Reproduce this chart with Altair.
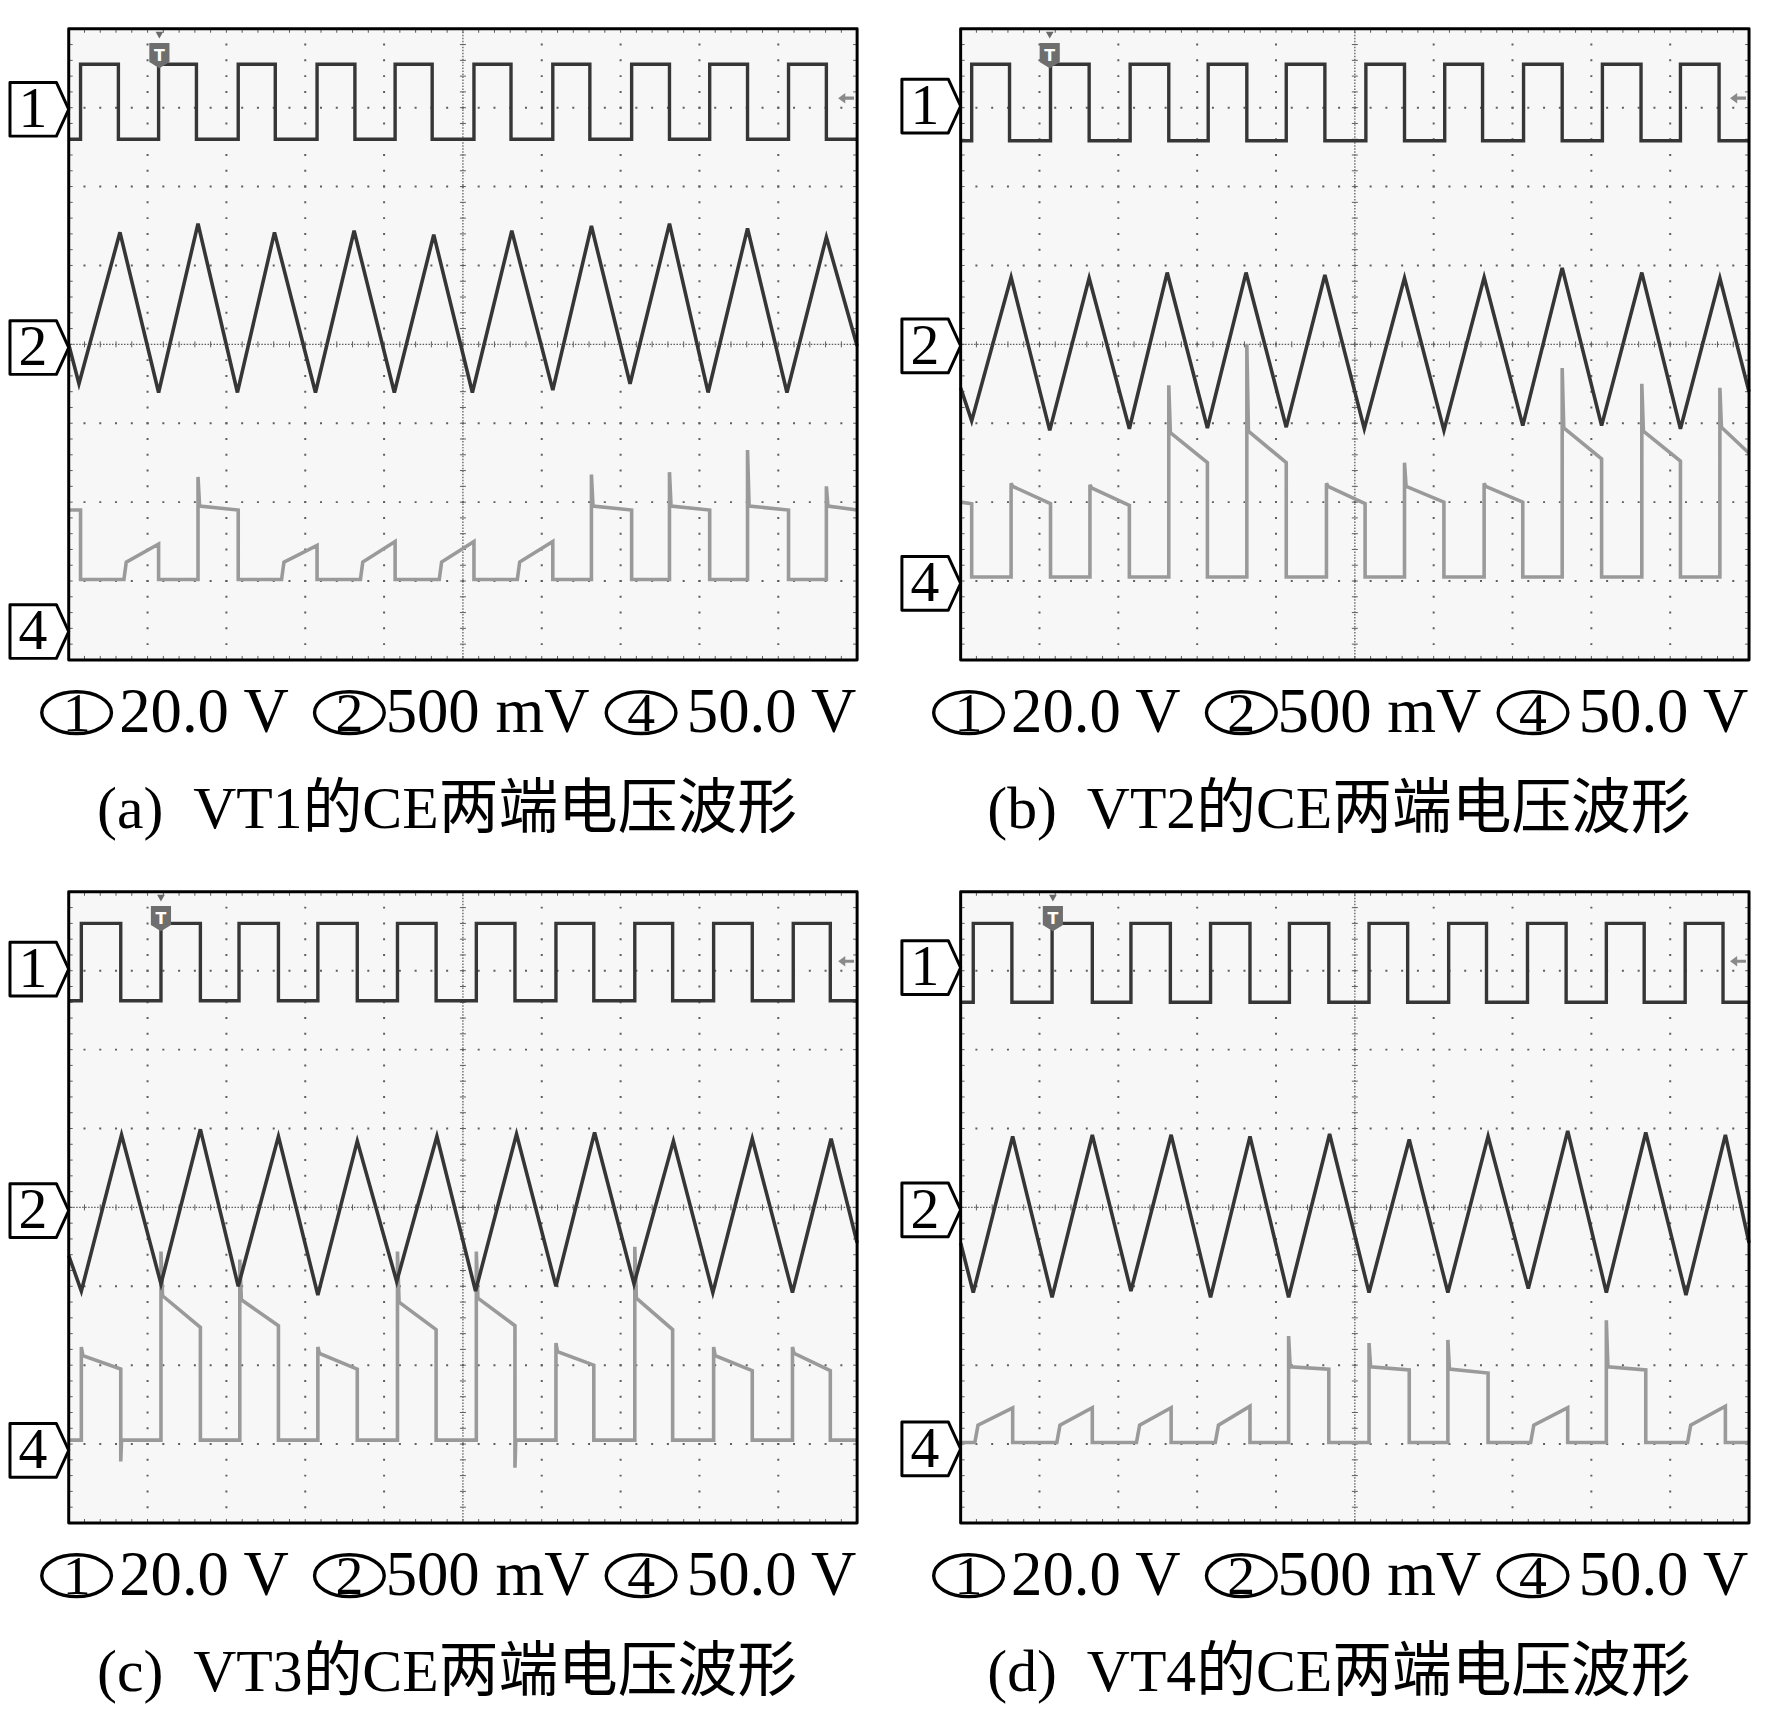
import altair as alt
import pandas as pd

# ---------------- values (scope divisions: time 0..10, level -4..4) ----------------
PANELS = ["a", "b", "c", "d"]
CAPTIONS = {
    "a": "(a)\u00a0\u00a0VT1的CE两端电压波形",
    "b": "(b)\u00a0\u00a0VT2的CE两端电压波形",
    "c": "(c)\u00a0\u00a0VT3的CE两端电压波形",
    "d": "(d)\u00a0\u00a0VT4的CE两端电压波形",
}
SCALE_CHANNELS = ["1", "2", "4"]
SCALE_VALUES = ["20.0 V", "500 mV", "50.0 V"]

# channel 1 (square wave): edge times and levels
CH1_RISE = {
    "a": [0.15, 1.14, 2.15, 3.15, 4.14, 5.14, 6.14, 7.14, 8.13, 9.13],
    "b": [0.14, 1.14, 2.15, 3.14, 4.13, 5.14, 6.14, 7.14, 8.14, 9.13],
    "c": [0.16, 1.17, 2.16, 3.16, 4.17, 5.17, 6.18, 7.18, 8.18, 9.19],
    "d": [0.16, 1.16, 2.16, 3.17, 4.17, 5.18, 6.19, 7.19, 8.19, 9.19],
}
CH1_FALL = {
    "a": [0.63, 1.62, 2.62, 3.63, 4.61, 5.61, 6.61, 7.62, 8.61, 9.61],
    "b": [0.62, 1.63, 2.64, 3.63, 4.62, 5.63, 6.62, 7.63, 8.63, 9.62],
    "c": [0.66, 1.67, 2.66, 3.66, 4.66, 5.66, 6.66, 7.66, 8.67, 9.66],
    "d": [0.65, 1.67, 2.66, 3.67, 4.67, 5.67, 6.67, 7.68, 8.67, 9.67],
}
CH1_HIGH = {"a": 3.55, "b": 3.55, "c": 3.60, "d": 3.60}
CH1_LOW = {"a": 2.60, "b": 2.58, "c": 2.62, "d": 2.60}

# channel 2 (triangle wave): start/end levels, troughs and peaks
CH2_START = {"a": 0.0, "b": -0.55, "c": -0.61, "d": -0.45}
CH2_END = {"a": -0.02, "b": -0.60, "c": -0.45, "d": -0.45}
CH2_TROUGH_T = {
    "a": [0.13, 1.14, 2.14, 3.13, 4.13, 5.12, 6.14, 7.12, 8.11, 9.11],
    "b": [0.14, 1.13, 2.14, 3.13, 4.13, 5.12, 6.13, 7.13, 8.13, 9.13],
    "c": [0.16, 1.17, 2.15, 3.16, 4.16, 5.16, 6.18, 7.17, 8.17, 9.18],
    "d": [0.16, 1.16, 2.16, 3.17, 4.16, 5.18, 6.18, 7.20, 8.19, 9.20],
}
CH2_TROUGH_V = {
    "a": [-0.50, -0.61, -0.61, -0.61, -0.61, -0.61, -0.58, -0.50, -0.61, -0.61],
    "b": [-0.97, -1.09, -1.07, -1.06, -1.05, -1.07, -1.09, -1.03, -1.03, -1.07],
    "c": [-1.06, -0.97, -1.00, -1.11, -0.94, -1.06, -1.00, -0.97, -1.08, -1.08],
    "d": [-1.08, -1.14, -1.06, -1.14, -1.14, -1.08, -1.08, -1.03, -1.08, -1.11],
}
CH2_PEAK_T = {
    "a": [0.65, 1.64, 2.61, 3.62, 4.63, 5.62, 6.63, 7.62, 8.61, 9.61],
    "b": [0.64, 1.63, 2.62, 3.62, 4.62, 5.63, 6.64, 7.63, 8.64, 9.63],
    "c": [0.67, 1.67, 2.66, 3.66, 4.67, 5.68, 6.67, 7.67, 8.67, 9.67],
    "d": [0.66, 1.67, 2.67, 3.67, 4.68, 5.69, 6.69, 7.70, 8.69, 9.70],
}
CH2_PEAK_V = {
    "a": [1.42, 1.53, 1.42, 1.44, 1.39, 1.44, 1.50, 1.53, 1.47, 1.36],
    "b": [0.85, 0.84, 0.91, 0.91, 0.88, 0.84, 0.85, 0.97, 0.91, 0.84],
    "c": [0.92, 0.99, 0.90, 0.84, 0.90, 0.93, 0.95, 0.84, 0.87, 0.87],
    "d": [0.90, 0.92, 0.92, 0.90, 0.93, 0.86, 0.90, 0.97, 0.95, 0.92],
}

# channel 4 (collector-emitter voltage): vertices (time, level)
CH4_A = [
    (0, -2.10), (0.15, -2.10), (0.15, -2.98), (0.70, -2.98), (0.73, -2.76), (1.14, -2.53), (1.14, -2.98),
    (1.64, -2.98), (1.64, -1.68), (1.66, -2.05), (2.15, -2.10), (2.15, -2.98),
    (2.70, -2.98), (2.73, -2.76), (3.15, -2.55), (3.15, -2.98),
    (3.70, -2.98), (3.73, -2.76), (4.14, -2.50), (4.14, -2.98),
    (4.70, -2.98), (4.73, -2.76), (5.14, -2.50), (5.14, -2.98),
    (5.69, -2.98), (5.72, -2.76), (6.14, -2.50), (6.14, -2.98),
    (6.63, -2.98), (6.63, -1.65), (6.65, -2.05), (7.14, -2.10), (7.14, -2.98),
    (7.62, -2.98), (7.62, -1.62), (7.64, -2.05), (8.13, -2.10), (8.13, -2.98),
    (8.61, -2.98), (8.61, -1.34), (8.63, -2.05), (9.13, -2.10), (9.13, -2.98),
    (9.61, -2.98), (9.61, -1.80), (9.63, -2.05), (10, -2.10),
]
CH4_B = [
    (0, -2.00), (0.14, -2.02), (0.14, -2.95), (0.64, -2.95), (0.64, -1.76), (0.66, -1.80), (1.14, -2.02), (1.14, -2.95),
    (1.64, -2.95), (1.64, -1.78), (1.66, -1.82), (2.14, -2.04), (2.14, -2.95),
    (2.64, -2.95), (2.64, -0.52), (2.66, -1.12), (3.13, -1.50), (3.13, -2.95),
    (3.63, -2.95), (3.63, 0.00), (3.65, -1.10), (4.13, -1.50), (4.13, -2.95),
    (4.64, -2.95), (4.64, -1.76), (4.66, -1.80), (5.13, -2.02), (5.13, -2.95),
    (5.63, -2.95), (5.63, -1.50), (5.65, -1.80), (6.13, -2.00), (6.13, -2.95),
    (6.64, -2.95), (6.64, -1.76), (6.66, -1.80), (7.13, -2.00), (7.13, -2.95),
    (7.63, -2.95), (7.63, -0.30), (7.65, -1.06), (8.13, -1.45), (8.13, -2.95),
    (8.64, -2.95), (8.64, -0.50), (8.66, -1.10), (9.13, -1.48), (9.13, -2.95),
    (9.63, -2.95), (9.63, -0.55), (9.65, -1.05), (10, -1.38),
]
CH4_C = [
    (0, -2.95), (0.16, -2.95), (0.16, -1.77), (0.18, -1.88), (0.66, -2.05), (0.66, -3.22), (0.67, -2.95),
    (1.17, -2.95), (1.17, -0.56), (1.19, -1.12), (1.67, -1.52), (1.67, -2.95),
    (2.17, -2.95), (2.17, -0.66), (2.19, -1.17), (2.66, -1.50), (2.66, -2.95),
    (3.16, -2.95), (3.16, -1.77), (3.18, -1.85), (3.66, -2.05), (3.66, -2.95),
    (4.17, -2.95), (4.17, -0.56), (4.19, -1.20), (4.66, -1.55), (4.66, -2.95),
    (5.17, -2.95), (5.17, -0.56), (5.19, -1.15), (5.66, -1.50), (5.66, -3.30), (5.67, -2.95),
    (6.18, -2.95), (6.18, -1.72), (6.20, -1.83), (6.66, -2.00), (6.66, -2.95),
    (7.18, -2.95), (7.18, -0.50), (7.20, -1.15), (7.66, -1.55), (7.66, -2.95),
    (8.18, -2.95), (8.18, -1.77), (8.20, -1.88), (8.67, -2.07), (8.67, -2.95),
    (9.18, -2.95), (9.18, -1.77), (9.20, -1.85), (9.66, -2.07), (9.66, -2.95),
    (10, -2.95),
]
CH4_D = [
    (0, -2.98), (0.18, -2.98), (0.22, -2.76), (0.66, -2.54), (0.66, -2.98),
    (1.22, -2.98), (1.26, -2.76), (1.67, -2.54), (1.67, -2.98),
    (2.23, -2.98), (2.27, -2.76), (2.67, -2.54), (2.67, -2.98),
    (3.23, -2.98), (3.27, -2.76), (3.67, -2.52), (3.67, -2.98),
    (4.16, -2.98), (4.16, -1.63), (4.18, -2.02), (4.67, -2.05), (4.67, -2.98),
    (5.18, -2.98), (5.18, -1.72), (5.20, -2.02), (5.69, -2.06), (5.69, -2.98),
    (6.18, -2.98), (6.18, -1.68), (6.20, -2.05), (6.69, -2.10), (6.69, -2.98),
    (7.23, -2.98), (7.27, -2.76), (7.70, -2.54), (7.70, -2.98),
    (8.19, -2.98), (8.19, -1.43), (8.21, -2.02), (8.69, -2.06), (8.69, -2.98),
    (9.22, -2.98), (9.26, -2.76), (9.70, -2.52), (9.70, -2.98),
    (10, -2.98),
]
CH4 = {"a": CH4_A, "b": CH4_B, "c": CH4_C, "d": CH4_D}

# ground-level markers (channel 1, 2, 4) and trigger position
MARKER_LEVELS = {
    "a": [2.98, -0.04, -3.64],
    "b": [3.02, -0.02, -3.03],
    "c": [3.02, -0.04, -3.08],
    "d": [3.04, -0.03, -3.06],
}
TRIGGER_T = {"a": 1.15, "b": 1.13, "c": 1.17, "d": 1.17}
TRIGGER_LEVEL = 3.12

# graticule
GRID_T = [1, 2, 3, 4, 6, 7, 8, 9]
GRID_V = [-3, -2, -1, 1, 2, 3]
TICK_X = [round(k * 0.2, 1) for k in range(1, 50)]
TICK_Y = [round(-4 + k * 0.2, 1) for k in range(1, 40)]

# ---------------- layout / style ----------------
W, H = 792, 634
DARK = "#363636"
LIGHT = "#9a9a9a"
GRIDC = "#5e5e5e"
SERIF = "Liberation Serif, Times New Roman, serif"
CAPFONT = "Liberation Serif, Noto Sans CJK SC, serif"
ELLIPSE_X = [0.10, 3.56, 7.26]     # scale-row ellipse centres (divisions)
SCALE_TEXT_X = [0.64, 4.02, 7.84]  # scale-row value text starts (divisions)

XS = alt.Scale(domain=[0, 10], nice=False, zero=False)
YS = alt.Scale(domain=[-4, 4], nice=False, zero=False)

MARKER_PATH = "M-1,-0.915L0.58,-0.915L1,0L0.58,0.915L-1,0.915Z"
ELLIPSE_PATH = ("M-1,0C-1,-0.3314,-0.5523,-0.6,0,-0.6C0.5523,-0.6,1,-0.3314,1,0"
                "C1,0.3314,0.5523,0.6,0,0.6C-0.5523,0.6,-1,0.3314,-1,0Z")
TRIG_PATH = "M-0.8,-1L0.8,-1L0.8,0.5L0,1L-0.8,0.5Z"
ARROW_PATH = "M-1,0L-0.1,-0.65L-0.1,-0.2L1,-0.2L1,0.2L-0.1,0.2L-0.1,0.65Z"


def X(field="t"):
    return alt.X(f"{field}:Q", scale=XS, axis=None)


def Y(field="v"):
    return alt.Y(f"{field}:Q", scale=YS, axis=None)


def line_df(pts):
    return pd.DataFrame({"t": [p[0] for p in pts], "v": [p[1] for p in pts],
                         "i": list(range(len(pts)))})


def ch1_points(p):
    lo, hi = CH1_LOW[p], CH1_HIGH[p]
    pts = [(0.0, lo)]
    for r, f in zip(CH1_RISE[p], CH1_FALL[p]):
        pts += [(r, lo), (r, hi), (f, hi), (f, lo)]
    pts.append((10.0, lo))
    return pts


def ch2_points(p):
    pts = [(0.0, CH2_START[p])]
    pts += sorted(list(zip(CH2_TROUGH_T[p], CH2_TROUGH_V[p])) + list(zip(CH2_PEAK_T[p], CH2_PEAK_V[p])))
    pts.append((10.0, CH2_END[p]))
    return pts


def tick_layer(df, shape, size):
    return alt.Chart(df).mark_point(shape=shape, size=size, filled=False, stroke=GRIDC,
                                    strokeWidth=1, strokeJoin="round", opacity=1).encode(x=X(), y=Y())


def panel(p):
    layers = []
    # graticule: dotted division lines
    layers.append(alt.Chart(pd.DataFrame({"t": GRID_T})).mark_rule(
        color=GRIDC, strokeWidth=2, strokeDash=[2, H / 40 - 2], strokeDashOffset=1).encode(x=X()))
    layers.append(alt.Chart(pd.DataFrame({"v": GRID_V})).mark_rule(
        color=GRIDC, strokeWidth=2, strokeDash=[2, W / 50 - 2], strokeDashOffset=1).encode(y=Y()))
    # centre cross lines
    layers.append(alt.Chart(pd.DataFrame({"t": [5.0]})).mark_rule(
        color=GRIDC, strokeWidth=1.3, strokeDash=[1.5, 1.5]).encode(x=X()))
    layers.append(alt.Chart(pd.DataFrame({"v": [0.0]})).mark_rule(
        color=GRIDC, strokeWidth=1.3, strokeDash=[1.5, 1.5]).encode(y=Y()))
    # minor ticks: centre lines and border
    layers.append(tick_layer(pd.DataFrame({"t": TICK_X, "v": 0.0}), "M0,-1L0,1", 36))
    layers.append(tick_layer(pd.DataFrame({"t": 5.0, "v": TICK_Y}), "M-1,0L1,0", 36))
    layers.append(tick_layer(pd.DataFrame({"t": TICK_X, "v": 4.0}), "M0,0L0,1", 64))
    layers.append(tick_layer(pd.DataFrame({"t": TICK_X, "v": -4.0}), "M0,0L0,-1", 64))
    layers.append(tick_layer(pd.DataFrame({"t": 0.0, "v": TICK_Y}), "M0,0L1,0", 64))
    layers.append(tick_layer(pd.DataFrame({"t": 10.0, "v": TICK_Y}), "M0,0L-1,0", 64))

    # traces
    layers.append(alt.Chart(line_df(CH4[p])).mark_line(color=LIGHT, strokeWidth=3.6).encode(
        x=X(), y=Y(), order="i:Q"))
    layers.append(alt.Chart(line_df(ch2_points(p))).mark_line(color=DARK, strokeWidth=3.6).encode(
        x=X(), y=Y(), order="i:Q"))
    layers.append(alt.Chart(line_df(ch1_points(p))).mark_line(color=DARK, strokeWidth=3.4).encode(
        x=X(), y=Y(), order="i:Q"))

    # trigger marker and trigger level arrow
    trig = pd.DataFrame({"t": [TRIGGER_T[p]], "v": [3.92], "v2": [3.66], "lab": ["T"]})
    layers.append(alt.Chart(trig).mark_point(shape="triangle-down", size=60, filled=True,
                                             color="#6a6a6a", opacity=1).encode(x=X(), y=Y()))
    layers.append(alt.Chart(trig).mark_point(shape=TRIG_PATH, size=640, filled=True,
                                             color="#6e6e6e", opacity=1).encode(x=X(), y=Y("v2")))
    layers.append(alt.Chart(trig).mark_text(font="DejaVu Sans", fontWeight="bold", fontSize=16,
                                            color="white", baseline="middle").encode(
        x=X(), y=Y("v2"), text="lab:N"))
    layers.append(alt.Chart(pd.DataFrame({"t": [9.86], "v": [TRIGGER_LEVEL]})).mark_point(
        shape=ARROW_PATH, size=256, filled=True, color="#8a8a8a", opacity=1).encode(x=X(), y=Y()))

    # screen frame
    layers.append(alt.Chart(pd.DataFrame({"t": [0.0], "t2": [10.0], "v": [-4.0], "v2": [4.0]})).mark_rect(
        fillOpacity=0, stroke="black", strokeWidth=3, strokeJoin="round").encode(
        x=X(), x2="t2:Q", y=Y(), y2="v2:Q"))

    # channel ground markers
    mk = pd.DataFrame({"t": 0.0, "v": MARKER_LEVELS[p], "lab": SCALE_CHANNELS})
    layers.append(alt.Chart(mk).mark_point(shape=MARKER_PATH, size=3481, filled=True, fill="white",
                                           stroke="black", strokeWidth=3, strokeJoin="round",
                                           opacity=1, xOffset=-29.5).encode(x=X(), y=Y()))
    layers.append(alt.Chart(mk).mark_text(font=SERIF, fontSize=58, color="black", baseline="middle",
                                          align="center", dx=-36, dy=1).encode(
        x=X(), y=Y(), text="lab:N"))

    # scale row: circled channel numbers and volts/div
    el = pd.DataFrame({"t": ELLIPSE_X, "v": -4.0, "lab": SCALE_CHANNELS})
    layers.append(alt.Chart(el).mark_point(shape=ELLIPSE_PATH, size=4900, filled=False,
                                           stroke="black", strokeWidth=3.4, strokeJoin="round",
                                           opacity=1, yOffset=53).encode(x=X(), y=Y()))
    layers.append(alt.Chart(el).mark_text(font=SERIF, fontSize=56, color="black", baseline="middle",
                                          align="center", dy=54).encode(x=X(), y=Y(), text="lab:N"))
    sv = pd.DataFrame({"t": SCALE_TEXT_X, "v": -4.0, "lab": SCALE_VALUES})
    layers.append(alt.Chart(sv).mark_text(font=SERIF, fontSize=63, color="black",
                                          baseline="alphabetic", align="left", dy=72).encode(
        x=X(), y=Y(), text="lab:N"))

    # caption
    cap = pd.DataFrame({"t": [5.0], "v": [-4.0], "lab": [CAPTIONS[p]]})
    layers.append(alt.Chart(cap).mark_text(font=CAPFONT, fontSize=60, color="black",
                                           baseline="alphabetic", align="center",
                                           dx=-16, dy=169).encode(x=X(), y=Y(), text="lab:N"))

    return alt.layer(*layers).properties(width=W, height=H)


chart = alt.concat(
    *[panel(p) for p in PANELS], columns=2,
    spacing={"row": 233, "column": 104}, bounds="flush",
).properties(
    padding={"left": 0, "top": 15, "right": 0, "bottom": 0},
    background="white",
).configure_view(fill="#f7f7f7", strokeWidth=0)

chart.save("out.html", embed_options={"renderer": "svg", "actions": False})
